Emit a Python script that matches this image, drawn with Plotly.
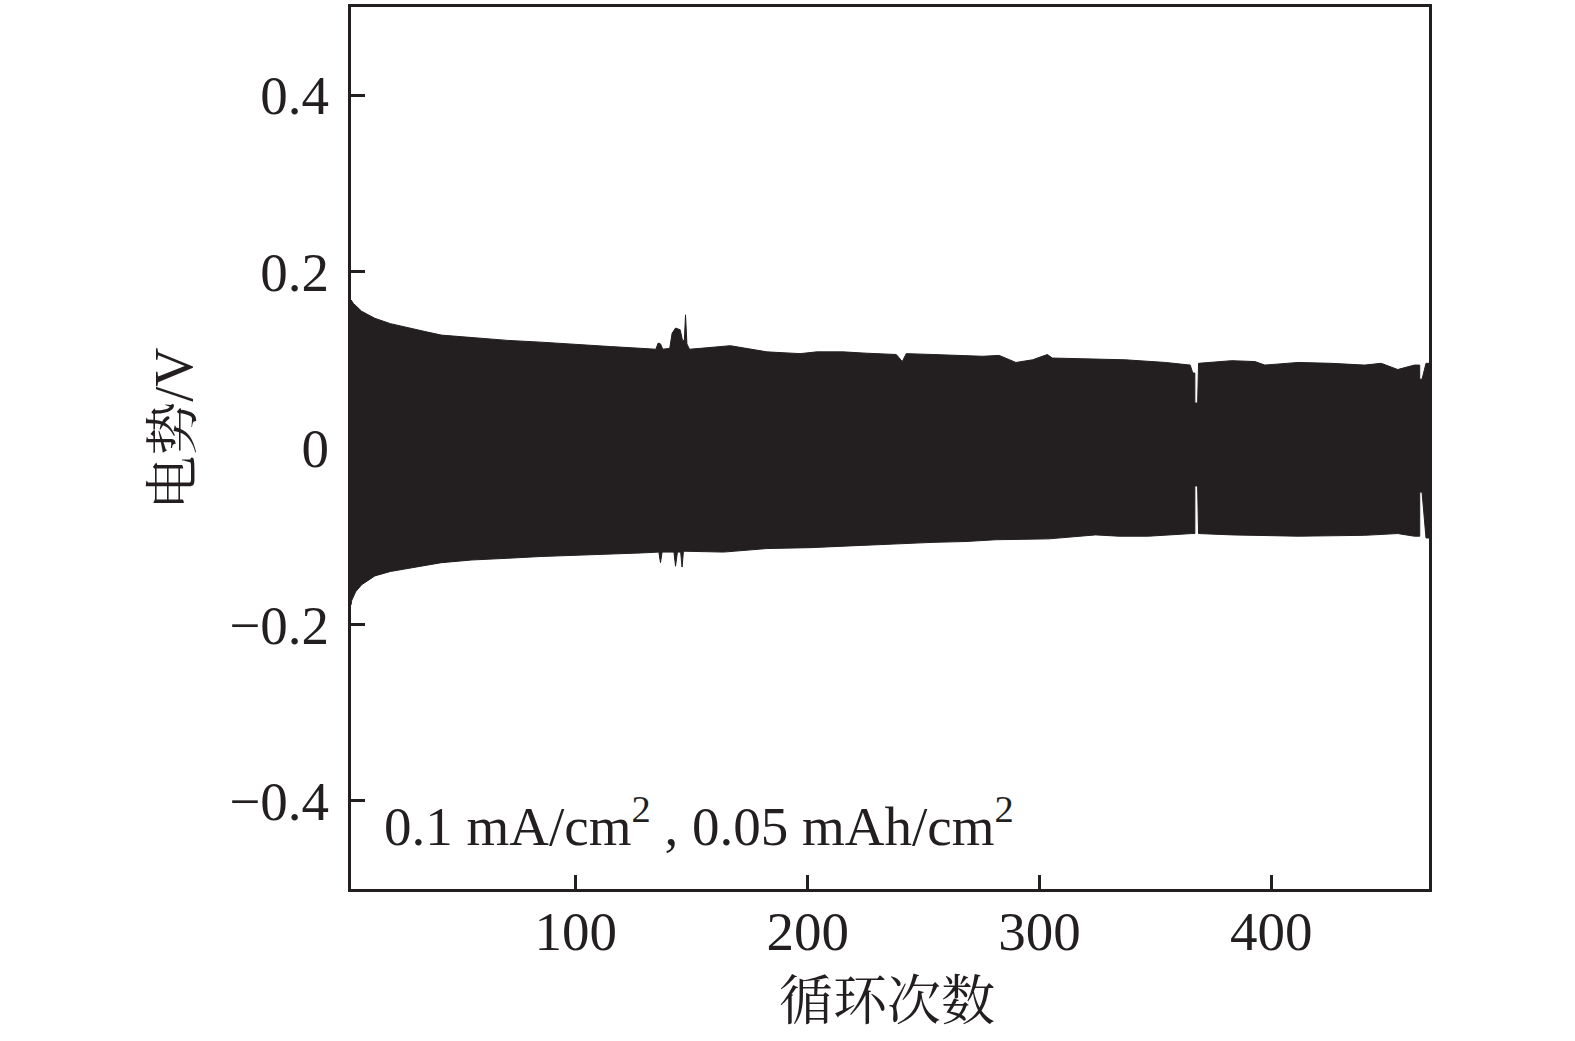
import plotly.graph_objects as go

# Upper envelope of the charge/discharge voltage band (cycle number, V)
upper_x = [3.0, 4.0, 7.6, 13.3, 20.0, 27.7, 35.0, 42.0, 55.0, 70.6, 85.0, 99.3, 115.0, 128.0,
           134.5, 135.5, 136.5, 137.5, 140.5, 141.5, 143.0, 145.0, 146.0, 146.8, 147.3, 147.9, 149.0,
           153.8, 166.6, 182.4, 196.7, 203.9, 215.3, 225.3, 238.2, 240.8, 242.5, 254.0, 262.6,
           275.5, 282.6, 289.8, 297.0, 303.4, 305.5, 325.6, 337.0, 354.3, 365.0, 366.1,
           367.0, 367.0, 368.2, 368.6, 382.9, 392.9, 397.2, 411.6, 425.9, 440.2, 447.4,
           454.5, 461.7, 464.0, 464.0, 465.0, 466.7, 468.0]
upper_y = [0.168, 0.164, 0.155, 0.147, 0.141, 0.136, 0.132, 0.128, 0.125, 0.122, 0.120, 0.118, 0.115, 0.113,
           0.112, 0.119, 0.118, 0.112, 0.113, 0.130, 0.136, 0.134, 0.122, 0.122, 0.151, 0.118, 0.112,
           0.113, 0.116, 0.109, 0.107, 0.109, 0.109, 0.1075, 0.106, 0.098, 0.107, 0.106, 0.105,
           0.104, 0.105, 0.097, 0.100, 0.106, 0.102, 0.101, 0.100, 0.097, 0.094, 0.085,
           0.085, 0.051, 0.051, 0.096, 0.099, 0.098, 0.094, 0.097, 0.096, 0.094, 0.096,
           0.089, 0.094, 0.094, 0.078, 0.078, 0.096, 0.096]

# Lower envelope (cycle number, V)
lower_x = [3.0, 3.3, 5.0, 7.6, 13.3, 20.0, 27.7, 35.0, 42.0, 55.0, 70.6, 85.0, 99.3, 115.0, 128.0,
           135.8, 136.5, 137.2, 142.3, 143.0, 143.8, 145.2, 145.8, 146.4, 153.8, 163.7, 182.4,
           201.0, 218.2, 232.5, 254.0, 268.3, 281.2, 304.1, 324.2, 334.2, 347.0, 365.7,
           367.0, 367.0, 368.2, 368.6, 383.0, 411.6, 440.2, 454.5, 461.7, 464.0, 464.0, 465.0,
           466.7, 468.0]
lower_y = [-0.178, -0.173, -0.163, -0.155, -0.145, -0.140, -0.136, -0.133, -0.130, -0.127, -0.125, -0.123, -0.122, -0.120, -0.119,
           -0.118, -0.130, -0.118, -0.118, -0.134, -0.118, -0.118, -0.135, -0.117, -0.117, -0.118, -0.114,
           -0.113, -0.111, -0.109, -0.107, -0.106, -0.104, -0.103, -0.0985, -0.100, -0.100, -0.097,
           -0.097, -0.043, -0.043, -0.097, -0.0985, -0.100, -0.099, -0.097, -0.100, -0.100, -0.050, -0.050,
           -0.102, -0.102]

x_ticks = [100, 200, 300, 400]
y_ticks = [-0.4, -0.2, 0, 0.2, 0.4]
y_ticktext = ["\u22120.4", "\u22120.2", "0", "0.2", "0.4"]

band_color = "#231f20"

fig = go.Figure()
fig.add_trace(go.Scatter(
    x=upper_x + lower_x[::-1],
    y=upper_y + lower_y[::-1],
    fill="toself",
    fillcolor=band_color,
    mode="lines",
    line=dict(color=band_color, width=1),
    hoverinfo="skip",
    showlegend=False,
))

serif = "Liberation Serif, Times New Roman, Noto Serif CJK SC, Noto Sans CJK SC, serif"

fig.update_layout(
    width=1575, height=1041,
    margin=dict(l=351, r=146, t=4, b=152),
    paper_bgcolor="white", plot_bgcolor="white",
    font=dict(family=serif, size=55, color="#231f20"),
    showlegend=False,
    xaxis=dict(
        range=[3, 468],
        tickvals=x_ticks,
        ticks="inside", ticklen=14, tickwidth=3, tickcolor="#231f20",
        showline=True, linewidth=3, linecolor="#231f20", mirror=True,
        showgrid=False, zeroline=False,
        tickfont=dict(size=55),
        ticklabelstandoff=-8,
    ),
    yaxis=dict(
        range=[-0.5, 0.5],
        tickvals=y_ticks, ticktext=y_ticktext,
        ticks="inside", ticklen=14, tickwidth=3, tickcolor="#231f20",
        showline=True, linewidth=3, linecolor="#231f20", mirror=True,
        showgrid=False, zeroline=False,
        tickfont=dict(size=55),
        ticklabelstandoff=8,
    ),
    annotations=[
        dict(
            text="0.1 mA/cm<sup>2</sup> , 0.05 mAh/cm<sup>2</sup>",
            xref="paper", yref="paper", x=0.029, y=0.075,
            xanchor="left", yanchor="middle", showarrow=False,
            font=dict(size=55, color="#231f20"),
        ),
        dict(
            text="电势/V",
            xref="paper", yref="paper", x=-0.165, y=0.522,
            xanchor="center", yanchor="middle", textangle=-90, showarrow=False,
            font=dict(size=54, color="#231f20"),
        ),
        dict(
            text="循环次数",
            xref="paper", yref="paper", x=0.497, y=-0.128,
            xanchor="center", yanchor="middle", showarrow=False,
            font=dict(size=54, color="#231f20"),
        ),
    ],
)

fig.write_html("out.html", config={"displayModeBar": False},
               post_script="document.body.style.margin='0';")
